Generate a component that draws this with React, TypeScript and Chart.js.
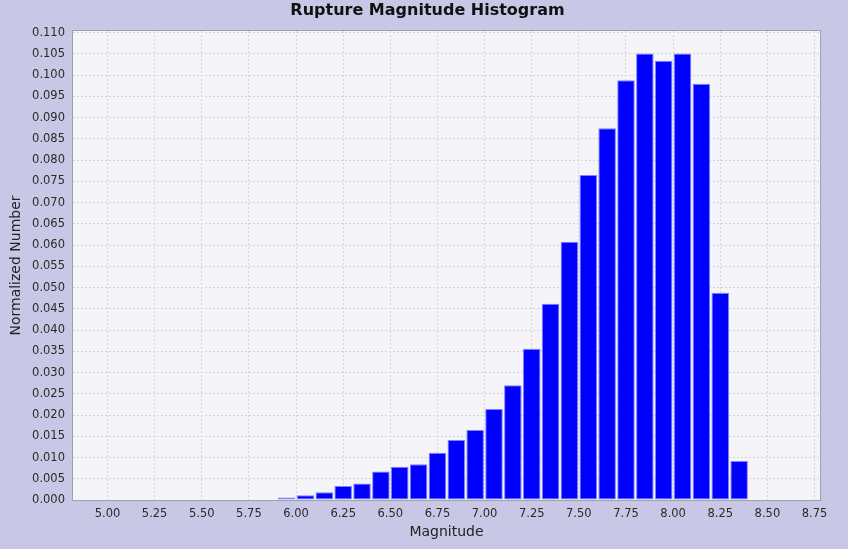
import React, { useEffect, useRef } from "react";
import { Chart, registerables } from "chart.js";

Chart.register(...registerables);

const chartTitle = "Rupture Magnitude Histogram";
const xAxisTitle = "Magnitude";
const yAxisTitle = "Normalized Number";

const binCenters = [
  5.75, 5.85, 5.95, 6.05, 6.15, 6.25, 6.35, 6.45, 6.55, 6.65, 6.75, 6.85, 6.95,
  7.05, 7.15, 7.25, 7.35, 7.45, 7.55, 7.65, 7.75, 7.85, 7.95, 8.05, 8.15, 8.25, 8.35,
];

const normalizedNumbers = [
  0.0001, 0.0001, 0.0006, 0.0011, 0.0018, 0.0033, 0.0039, 0.0067, 0.0078, 0.0084,
  0.0111, 0.0141, 0.0165, 0.0214, 0.027, 0.0356, 0.0462, 0.0608, 0.0765, 0.0875,
  0.0988, 0.1051, 0.1034, 0.1051, 0.098, 0.0488, 0.0092,
];

const xTickValues = [5.0, 5.25, 5.5, 5.75, 6.0, 6.25, 6.5, 6.75, 7.0, 7.25, 7.5, 7.75, 8.0, 8.25, 8.5, 8.75];

const yTickValues = [
  0.0, 0.005, 0.01, 0.015, 0.02, 0.025, 0.03, 0.035, 0.04, 0.045, 0.05, 0.055,
  0.06, 0.065, 0.07, 0.075, 0.08, 0.085, 0.09, 0.095, 0.1, 0.105, 0.11,
];

const plotFrame = {
  id: "plotFrame",
  beforeDraw(chart: any) {
    const { ctx, chartArea } = chart;
    const { left, top, right, bottom } = chartArea;
    ctx.save();
    ctx.fillStyle = "#F4F4F9";
    ctx.fillRect(left, top, right - left, bottom - top);
    ctx.restore();
  },
  afterDraw(chart: any) {
    const { ctx, chartArea } = chart;
    const { left, top, right, bottom } = chartArea;
    ctx.save();
    ctx.strokeStyle = "#A0A0A8";
    ctx.lineWidth = 1;
    ctx.strokeRect(Math.round(left) - 0.5, Math.round(top) - 0.5, Math.round(right - left) + 1, Math.round(bottom - top) + 1);
    // chart title, centred as in the original figure
    ctx.fillStyle = "#111111";
    ctx.font = "bold 16px 'DejaVu Sans'";
    ctx.textAlign = "center";
    ctx.textBaseline = "alphabetic";
    ctx.fillText(chartTitle, 427.5, 14.7);
    ctx.restore();
  },
};

export default function App() {
  const canvasRef = useRef<HTMLCanvasElement | null>(null);

  useEffect(() => {
    const canvas = canvasRef.current;
    if (!canvas) return;
    const chart = new Chart(canvas, {
      type: "bar",
      data: {
        datasets: [
          {
            label: yAxisTitle,
            data: binCenters.map((x, i) => ({ x, y: normalizedNumbers[i] })),
            backgroundColor: "#0000FF",
            borderColor: "#7F7FFF",
            borderWidth: 1,
            borderSkipped: false,
            barPercentage: 0.93,
            categoryPercentage: 1,
          },
        ],
      },
      options: {
        animation: false,
        responsive: false,
        devicePixelRatio: 1,
        layout: { padding: { left: 8, right: 28, top: 31, bottom: 8 } },
        plugins: {
          legend: { display: false },
          tooltip: { enabled: false },
          title: { display: false },
        },
        scales: {
          x: {
            type: "linear",
            min: 4.817,
            max: 8.779,
            offset: false,
            grid: { color: "#D4D4DC", drawTicks: false, offset: false },
            border: { display: false, dash: [2, 2] },
            afterBuildTicks: (scale: any) => {
              scale.ticks = xTickValues.map((v) => ({ value: v }));
            },
            afterFit: (scale: any) => {
              scale.height = 41;
            },
            ticks: {
              autoSkip: false,
              maxRotation: 0,
              padding: 7,
              color: "#2A2A2A",
              font: { family: "DejaVu Sans", size: 11.5 },
              callback: (v: any) => Number(v).toFixed(2),
            },
            title: {
              display: true,
              text: xAxisTitle,
              color: "#222222",
              font: { family: "DejaVu Sans", size: 14 },
              padding: 0,
            },
          },
          y: {
            type: "linear",
            min: 0,
            max: 0.1104,
            grid: { color: "#D4D4DC", drawTicks: false },
            border: { display: false, dash: [2, 2] },
            afterBuildTicks: (scale: any) => {
              scale.ticks = yTickValues.map((v) => ({ value: v }));
            },
            afterFit: (scale: any) => {
              scale.width = 65;
            },
            ticks: {
              autoSkip: false,
              padding: 8,
              color: "#2A2A2A",
              font: { family: "DejaVu Sans", size: 11.5 },
              callback: (v: any) => Number(v).toFixed(3),
            },
            title: {
              display: true,
              text: yAxisTitle,
              color: "#222222",
              font: { family: "DejaVu Sans", size: 14 },
              padding: 0,
            },
          },
        },
      },
      plugins: [plotFrame],
    } as any);
    return () => chart.destroy();
  }, []);

  return (
    <div
      style={{
        position: "fixed",
        left: 0,
        top: 0,
        width: 848,
        height: 549,
        background: "#C8C8E6",
      }}
    >
      <canvas ref={canvasRef} width={848} height={549} style={{ display: "block" }} />
    </div>
  );
}
